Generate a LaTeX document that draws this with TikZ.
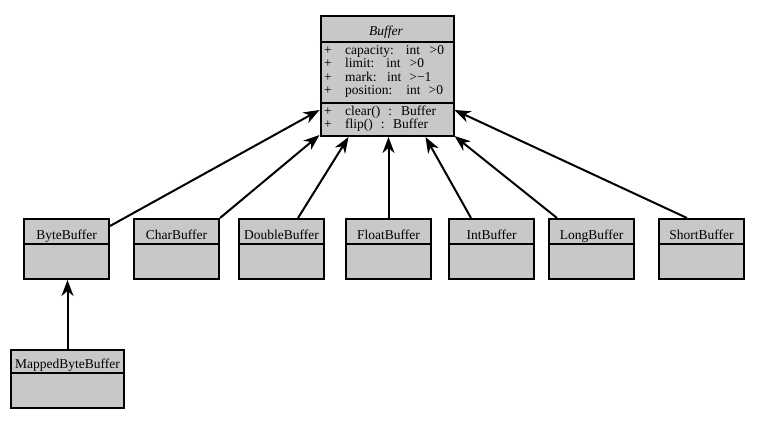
\documentclass[tikz,border=0pt]{standalone}
\usepackage{fontspec}
\setmainfont{LiberationSerif}[
  Extension=.ttf,
  UprightFont=*-Regular,
  ItalicFont=*-Italic,
  BoldFont=*-Bold,
  BoldItalicFont=*-BoldItalic]
\usetikzlibrary{arrows.meta,calc}
\definecolor{classfill}{RGB}{200,200,200}
\tikzset{
  classbox/.style={draw=black, line width=2pt, fill=classfill, inner sep=0pt, anchor=north west},
  smallclass/.style={classbox, minimum width=85pt, minimum height=60pt},
  divider/.style={draw=black, line width=2pt},
  inherit/.style={draw=black, line width=2pt, -{Stealth[length=16pt,width=12pt,inset=5pt]}},
  lbl/.style={font=\rmfamily\fontsize{13.5}{13.5}\selectfont, inner sep=0pt},
  member/.style={lbl, anchor=base west},
  plus/.style={lbl, anchor=base}
}
\begin{document}
\begin{tikzpicture}[x=1pt,y=-1pt]
\useasboundingbox[fill=white] (0,0) rectangle (768,421);

% abstract base class
\node[classbox, minimum width=133pt, minimum height=120pt] (buffer) at (319.5,15) {};
\draw[divider] ($(buffer.north west)+(0,27)$) -- ($(buffer.north east)+(0,27)$);
\draw[divider] ($(buffer.north west)+(0,88)$) -- ($(buffer.north east)+(0,88)$);
\node[lbl, anchor=base] (bufname) at (386,35) {\itshape Buffer};

\node[plus] (p1) at (328,54) {+};
\node[plus] (p2) at (328,67.5) {+};
\node[plus] (p3) at (328,81) {+};
\node[plus] (p4) at (328,94.5) {+};
\node[plus] (p5) at (328,115) {+};
\node[plus] (p6) at (328,128) {+};

\node[member] (a1) at (345,54) {capacity:\hspace{12pt}int\hspace{9.5pt}>0};
\node[member] (a2) at (345,67.5) {limit:\hspace{12pt}int\hspace{9pt}>0};
\node[member] (a3) at (345,81) {mark:\hspace{10.5pt}int\hspace{8pt}>−1};
\node[member] (a4) at (345,94.5) {position:\hspace{14pt}int\hspace{8pt}>0};
\node[member] (m1) at (345,115) {clear()\hspace{8pt}:\hspace{9pt}Buffer};
\node[member] (m2) at (345,128) {flip()\hspace{8pt}:\hspace{8.5pt}Buffer};

% concrete subclasses
\node[smallclass] (byte)   at (23,218)  {};
\node[smallclass] (char)   at (133,218) {};
\node[smallclass] (double) at (238,218) {};
\node[smallclass] (float)  at (345,218) {};
\node[smallclass] (int)    at (448,218) {};
\node[smallclass] (long)   at (548,218) {};
\node[smallclass] (short)  at (658,218) {};
\node[classbox, minimum width=113pt, minimum height=58pt] (mapped) at (10,349) {};

\foreach \c/\t in {byte/ByteBuffer, char/CharBuffer, double/DoubleBuffer,
                   float/FloatBuffer, int/IntBuffer, long/LongBuffer, short/ShortBuffer}{
  \draw[divider] ($(\c.north west)+(0,26)$) -- ($(\c.north east)+(0,26)$);
  \node[lbl, anchor=base] (\c-name) at ($(\c.north)+(0,21)$) {\t};
}
\draw[divider] ($(mapped.north west)+(0,24)$) -- ($(mapped.north east)+(0,24)$);
\node[lbl, anchor=base] (mapped-name) at ($(mapped.north)+(0,19)$) {MappedByteBuffer};

% generalisation arrows
\draw[inherit] ($(byte.north east)+(0,8)$) -- ($(buffer.north west)+(0,95)$);
\draw[inherit] (char.north east) -- ($(buffer.south west)+(0,-2)$);
\draw[inherit] ($(double.north west)+(60,0)$) -- ($(buffer.south west)+(29,0)$);
\draw[inherit] (float.north) -- (float.north |- buffer.south);
\draw[inherit] ($(int.north west)+(23,0)$) -- ($(buffer.south east)+(-29,0)$);
\draw[inherit] ($(long.north west)+(9,0)$) -- ($(buffer.south east)+(0,-1)$);
\draw[inherit] ($(short.north west)+(29,0)$) -- ($(buffer.north east)+(0,95)$);
\draw[inherit] (mapped.north) -- (mapped.north |- byte.south);
\end{tikzpicture}
\end{document}
